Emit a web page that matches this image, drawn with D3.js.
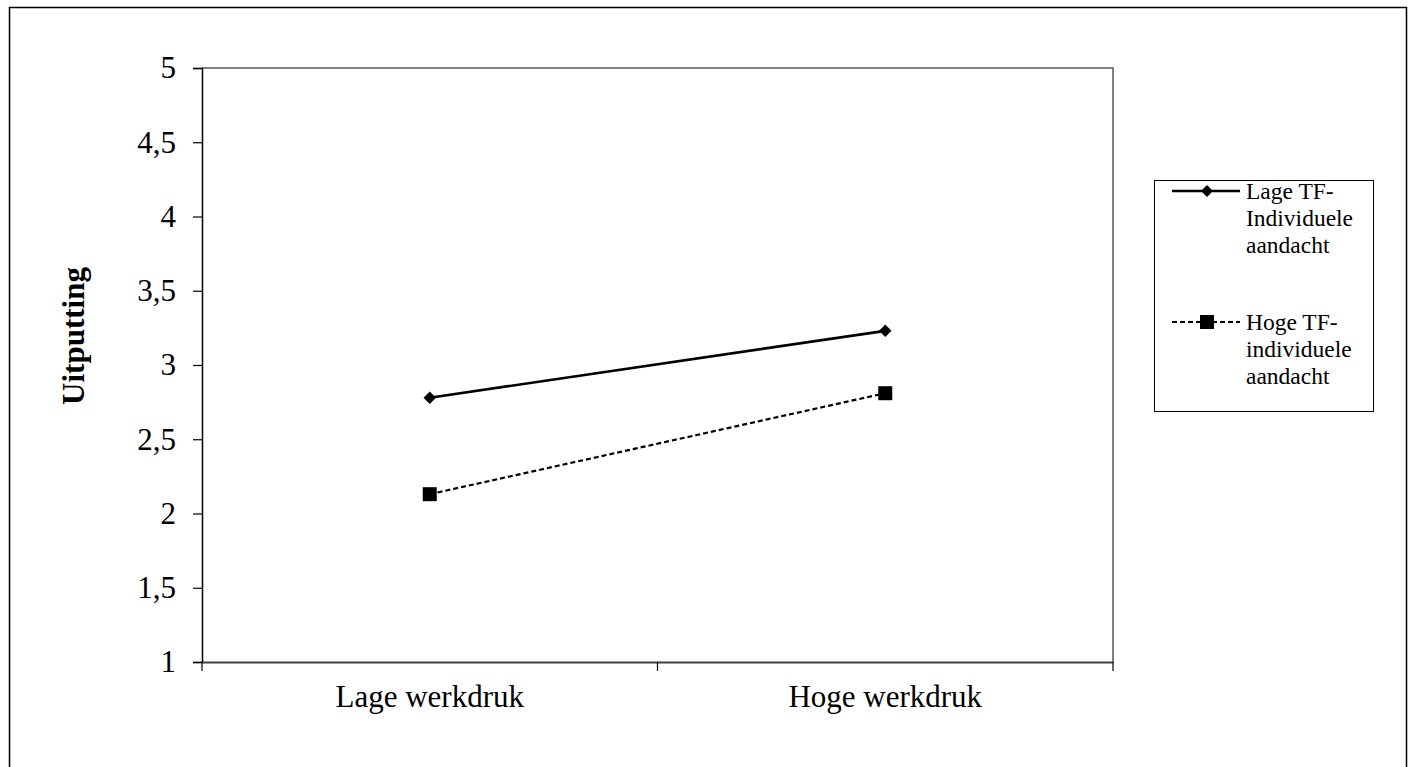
<!DOCTYPE html>
<html>
<head>
<meta charset="utf-8">
<script src="https://cdn.jsdelivr.net/npm/d3@7"></script>
<style>
  body{margin:0;background:#fff;}
  svg{display:block;font-family:"Liberation Serif","Times New Roman",serif;}
</style>
</head>
<body>
<div id="chart"></div>
<script>
// chart data
const categories=["Lage werkdruk","Hoge werkdruk"];
const lageTF=[2.78,3.23];
const hogeTF=[2.13,2.81];
const yTicks=[1,1.5,2,2.5,3,3.5,4,4.5,5];
const legendLabels=[["Lage TF-","Individuele","aandacht"],["Hoge TF-","individuele","aandacht"]];

const width=1412,height=767;
const svg=d3.select("#chart").append("svg")
    .attr("width",width).attr("height",height);

//outer frame
svg.append("rect")
    .attr("x",9.5).attr("y",7.5)
    .attr("width",1397).attr("height",800)
    .attr("fill","none").attr("stroke","#000").attr("stroke-width",1.5);

const plot={left:202,right:1113,top:68,bottom:662};

const x=d3.scaleBand().domain(categories).range([plot.left,plot.right]);
const y=d3.scaleLinear().domain([1,5]).range([plot.bottom,plot.top]);

//grey top + right of plot area
svg.append("path")
    .attr("d",`M${plot.left},${plot.top}H${plot.right}V${plot.bottom}`)
    .attr("fill","none").attr("stroke","#808080").attr("stroke-width",2);

//y axis
const yAxis=svg.append("g")
    .attr("transform",`translate(${plot.left},0)`)
    .call(d3.axisLeft(y).tickValues(yTicks).tickSize(9).tickPadding(17)
        .tickFormat(d=>String(d).replace(".",",")));
yAxis.attr("font-family",null).attr("font-size",null);
yAxis.select(".domain").attr("stroke","#000").attr("stroke-width",1.5);
yAxis.selectAll(".tick line").attr("stroke","#000").attr("stroke-width",1.2);
yAxis.selectAll("text").attr("font-size",31).attr("fill","#000");

//x axis
const xAxis=svg.append("g")
    .attr("transform",`translate(0,${plot.bottom})`)
    .call(d3.axisBottom(x).tickSize(0));
xAxis.attr("font-family",null).attr("font-size",null);
xAxis.select(".domain").attr("stroke","#404040").attr("stroke-width",2);
xAxis.selectAll("text").attr("font-size",31).attr("fill","#000")
    .attr("y",45).attr("dy",0);
//category boundary ticks
svg.append("g").selectAll("line")
    .data([...categories.map(c=>x(c)),plot.right])
    .enter().append("line")
    .attr("x1",d=>d).attr("x2",d=>d)
    .attr("y1",plot.bottom).attr("y2",plot.bottom+9)
    .attr("stroke","#000").attr("stroke-width",1.2);

//y title
svg.append("text")
    .attr("transform",`translate(84,336) rotate(-90)`)
    .attr("text-anchor","middle")
    .attr("font-size",31).attr("font-weight","bold")
    .text("Uitputting");

const cx=c=>x(c)+x.bandwidth()/2;
const line=d3.line().x((d,i)=>cx(categories[i])).y(d=>y(d));

//series 1 - solid with diamonds
svg.append("path").datum(lageTF)
    .attr("d",line).attr("fill","none")
    .attr("stroke","#000").attr("stroke-width",2.6);
svg.append("g").selectAll("path").data(lageTF).enter().append("path")
    .attr("d",d3.symbol(d3.symbolDiamond2,100))
    .attr("transform",(d,i)=>`translate(${cx(categories[i])},${y(d)})`)
    .attr("fill","#000");

//series 2 - dashed with squares
svg.append("path").datum(hogeTF)
    .attr("d",line).attr("fill","none")
    .attr("stroke","#000").attr("stroke-width",2.2)
    .attr("stroke-dasharray","5,3");
svg.append("g").selectAll("rect").data(hogeTF).enter().append("rect")
    .attr("x",(d,i)=>cx(categories[i])-7).attr("y",d=>y(d)-7)
    .attr("width",14).attr("height",14).attr("fill","#000");

//legend
const lg=svg.append("g");
lg.append("rect")
    .attr("x",1154.5).attr("y",180.5).attr("width",219).attr("height",231)
    .attr("fill","#fff").attr("stroke","#000").attr("stroke-width",1);

const entryY=[191,322];
legendLabels.forEach((lines,k)=>{
    const yy=entryY[k];
    const l=lg.append("line")
        .attr("x1",1172).attr("x2",1240).attr("y1",yy).attr("y2",yy)
        .attr("stroke","#000");
    if(k==0){
        l.attr("stroke-width",2.6);
        lg.append("path").attr("d",d3.symbol(d3.symbolDiamond2,90))
            .attr("transform",`translate(1207,${yy})`).attr("fill","#000");
    }else{
        l.attr("stroke-width",2.2).attr("stroke-dasharray","5,3");
        lg.append("rect").attr("x",1200).attr("y",yy-7)
            .attr("width",14).attr("height",14).attr("fill","#000");
    }
    const t=lg.append("text").attr("x",1246).attr("y",yy+8)
        .attr("font-size",23.5);
    lines.forEach((s,i)=>{
        t.append("tspan").attr("x",1246).attr("dy",i==0?0:27).text(s);
    });
});
</script>
</body>
</html>
